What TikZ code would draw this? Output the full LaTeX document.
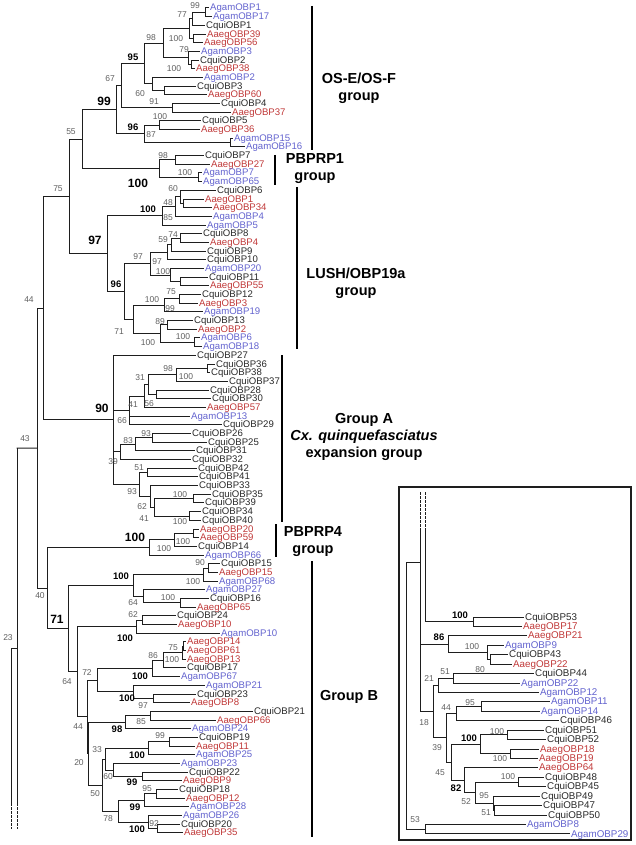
\documentclass[tikz,border=0pt]{standalone}
\usepackage{fontspec}
\setmainfont{Liberation Sans}
\definecolor{agam}{RGB}{98,98,206}
\definecolor{aaeg}{RGB}{192,56,56}
\definecolor{cqui}{RGB}{40,40,40}
\definecolor{bsgray}{RGB}{95,95,95}
\definecolor{linec}{RGB}{30,30,30}
\begin{document}
\begin{tikzpicture}[x=1pt,y=-1pt,
  br/.style={draw=linec,line width=1pt,line cap=rect},
  brdash/.style={draw=linec,line width=1pt,dash pattern=on 2.5pt off 1.5pt},
  leaf/.style={anchor=west,inner xsep=1.5pt,inner ysep=0pt,text height=7pt,text depth=1pt,font=\fontsize{9.6}{10}\selectfont},
  ileaf/.style={anchor=west,inner xsep=1.5pt,inner ysep=0pt,text height=7.2pt,text depth=1pt,font=\fontsize{9.8}{11}\selectfont},
  bs/.style={inner sep=0pt,text=bsgray,font=\fontsize{8.5}{9}\selectfont},
  bsb/.style={inner sep=0pt,text=black,font=\bfseries\fontsize{9.5}{10}\selectfont},
  bsl/.style={inner sep=0pt,text=black,font=\bfseries\fontsize{12}{13}\selectfont},
  grp/.style={inner sep=0pt,align=center,text=black,font=\bfseries\fontsize{14.5}{17}\selectfont},
  grpline/.style={draw=black,line width=1.3pt},
  boxst/.style={draw=linec,line width=1.1pt}]
\useasboundingbox (0,0) rectangle (635,845);
% ---------------- main tree ----------------
\begin{scope}[x=1pt,y=-8.684pt,yshift=0.684pt]
\foreach \i/\x/\s/\t in {
1/208.5/agam/AgamOBP1,2/211.5/agam/AgamOBP17,3/204.5/cqui/CquiOBP1,4/205.5/aaeg/AaegOBP39,
5/202.5/aaeg/AaegOBP56,6/199.5/agam/AgamOBP3,7/198.5/cqui/CquiOBP2,8/194.5/aaeg/AaegOBP38,
9/202.5/agam/AgamOBP2,10/195.5/cqui/CquiOBP3,11/206.5/aaeg/AaegOBP60,12/219.5/cqui/CquiOBP4,
13/230.5/aaeg/AaegOBP37,14/200.5/cqui/CquiOBP5,15/199.5/aaeg/AaegOBP36,16/232.5/agam/AgamOBP15,
17/244.5/agam/AgamOBP16,18/203.5/cqui/CquiOBP7,19/209.5/aaeg/AaegOBP27,20/201.5/agam/AgamOBP7,
21/201.5/agam/AgamOBP65,22/215.5/cqui/CquiOBP6,23/203.5/aaeg/AaegOBP1,24/211.5/aaeg/AaegOBP34,
25/211.5/agam/AgamOBP4,26/205.5/agam/AgamOBP5,27/201.5/cqui/CquiOBP8,28/208.5/aaeg/AaegOBP4,
29/205.5/cqui/CquiOBP9,30/205.5/cqui/CquiOBP10,31/203.5/agam/AgamOBP20,32/207.5/cqui/CquiOBP11,
33/208.5/aaeg/AaegOBP55,34/200.5/cqui/CquiOBP12,35/197.5/aaeg/AaegOBP3,36/202.5/agam/AgamOBP19,
37/192.5/cqui/CquiOBP13,38/196.5/aaeg/AaegOBP2,39/199.5/agam/AgamOBP6,40/201.5/agam/AgamOBP18,
41/195.5/cqui/CquiOBP27,42/214.5/cqui/CquiOBP36,43/209.5/cqui/CquiOBP38,44/227.5/cqui/CquiOBP37,
45/208.5/cqui/CquiOBP28,46/210.5/cqui/CquiOBP30,47/205.5/aaeg/AaegOBP57,48/189.5/agam/AgamOBP13,
49/221.5/cqui/CquiOBP29,50/190.5/cqui/CquiOBP26,51/206.5/cqui/CquiOBP25,52/194.5/cqui/CquiOBP31,
53/190.5/cqui/CquiOBP32,54/196.5/cqui/CquiOBP42,55/197.5/cqui/CquiOBP41,56/197.5/cqui/CquiOBP33,
57/210.5/cqui/CquiOBP35,58/203.5/cqui/CquiOBP39,59/200.5/cqui/CquiOBP34,60/200.5/cqui/CquiOBP40,
61/198.5/aaeg/AaegOBP20,62/198.5/aaeg/AaegOBP59,63/196.5/cqui/CquiOBP14,64/203.5/agam/AgamOBP66,
65/219.5/cqui/CquiOBP15,66/217.5/aaeg/AaegOBP15,67/217.5/agam/AgamOBP68,68/204.5/agam/AgamOBP27,
69/208.5/cqui/CquiOBP16,70/195.5/aaeg/AaegOBP65,71/175.5/cqui/CquiOBP24,72/176.5/aaeg/AaegOBP10,
73/219.5/agam/AgamOBP10,74/185.5/aaeg/AaegOBP14,75/185.5/aaeg/AaegOBP61,76/185.5/aaeg/AaegOBP13,
77/185.5/cqui/CquiOBP17,78/179.5/agam/AgamOBP67,79/204.5/agam/AgamOBP21,80/195.5/cqui/CquiOBP23,
81/189.5/aaeg/AaegOBP8,82/252.5/cqui/CquiOBP21,83/215.5/aaeg/AaegOBP66,84/190.5/agam/AgamOBP24,
85/197.5/cqui/CquiOBP19,86/194.5/aaeg/AaegOBP11,87/194.5/agam/AgamOBP25,88/179.5/agam/AgamOBP23,
89/187.5/cqui/CquiOBP22,90/181.5/aaeg/AaegOBP9,91/177.5/cqui/CquiOBP18,92/184.5/aaeg/AaegOBP12,
93/188.5/agam/AgamOBP28,94/181.5/agam/AgamOBP26,95/179.5/cqui/CquiOBP20,96/182.5/aaeg/AaegOBP35}
  \node[leaf,text=\s] (L\i) at (\x,\i) {\t};
\foreach \n/\x/\y in {
a1/205/1.5,a77/192/2.25,a39/193/4.5,aJ/189/3.375,a7/191/7.5,a79/188/6.75,a98/163/5.0625,
a91/164/10.5,a60/152/9.75,a95/144/7.406,a37/172/12.5,a67/121/9.953,a87/159/14.5,a15/230/16.5,
a96/144/15.5,a99/116/12.727,b98/175/18.5,b7/198/20.5,b100/159/19.5,c55/82/16.113,
d48/183/23.5,d60/180/22.75,d85/175/23.875,d100/162/24.9375,e74/180/27.5,e59/171/28.25,
e97a/167/29.125,e75/180/32.5,e100/170/31.75,e97/150/30.4375,f99/179/34.5,f100/164/35.25,
f89/167/37.5,f6/194/39.5,f100b/160/38.5,f71/133/36.875,e96/124/33.656,d97/107/29.297,
c75/69/22.705,g36/207/42.5,g98/176/43.25,g28/156/45.5,g31/148/44.375,g41/144/45.6875,
g66/129/47.344,g93/152/50.5,g83/135/51.25,g39/120/52.125,g51/147/54.5,g35/193/57.5,
g34/189/59.5,g41b/154/58.5,g62/150/57.25,g93b/139/55.875,g90/113/48.4375,c44/43/35.571,
h20/193/61.5,h100/174/62.25,h100b/149/63.125,i90/208/65.5,i100/203/66.25,i16/180/69.5,
i64/143/68.75,i100a/133/67.5,j62/142/71.5,j100/136/72.25,k75/183/74.5,k100x/182/75.25,
k100y/163/76.125,k86/152/77.0625,k97/153/80.5,k100z/133/79.75,k72/97/78.406,l85/150/82.5,
l98/125/83.25,m99/169/85.5,m100/148/86.25,m99b/142/89.5,m60/113/88.75,m33/105/87.5,
n95/156/91.5,n99/144/92.25,n20c/157/95.5,n92/148/94.75,n78/118/93.5,m50/102/90.5,
l20/88/86.875,k44/87/82.64,j64/77/77.445,i71/68/72.47,h40/47/67.8,c43/37/51.69}
  \coordinate (\n) at (\x,\y);
\end{scope}
% ---------------- inset tree ----------------
\begin{scope}[x=1pt,y=-9.43pt,yshift=-607.57pt]
\foreach \i/\x/\s/\t in {
1/523.5/cqui/CquiOBP53,2/521.5/aaeg/AaegOBP17,3/526.5/aaeg/AaegOBP21,4/503.5/agam/AgamOBP9,
5/507.5/cqui/CquiOBP43,6/511.5/aaeg/AaegOBP22,7/533.5/cqui/CquiOBP44,8/519.5/agam/AgamOBP22,
9/538.5/agam/AgamOBP12,10/549.5/agam/AgamOBP11,11/539.5/agam/AgamOBP14,12/558.5/cqui/CquiOBP46,
13/543.5/cqui/CquiOBP51,14/545.5/cqui/CquiOBP52,15/538.5/aaeg/AaegOBP18,16/537.5/aaeg/AaegOBP19,
17/537.5/aaeg/AaegOBP64,18/543.5/cqui/CquiOBP48,19/545.5/cqui/CquiOBP45,20/539.5/cqui/CquiOBP49,
21/541.5/cqui/CquiOBP47,22/546.5/cqui/CquiOBP50,23/525.5/agam/AgamOBP8,24/569.5/agam/AgamOBP29}
  \node[ileaf,text=\s] (J\i) at (\x,\i) {\t};
\foreach \n/\x/\y in {
p100/473/1.5,p80/490/5.5,p100b/487/4.75,p86/448/3.875,q51/453/7.5,q21/438/8.25,
q95/481/10.5,q44/456/11.25,r100a/507/13.5,r100b/510/15.5,r100/480/14.5,s100/518/18.5,
s51/494/21.5,s95/493/20.75,s52/475/19.625,s82/464/18.3125,r45/451/16.406,q39/446/13.828,
q18/433/11.039,t29/425/23.5}
  \coordinate (\n) at (\x,\y);
\end{scope}
% ---------------- branches ----------------
\foreach \p/\c in {
a1/L1.west,a1/L2.west,a77/a1,a77/L3.west,a39/L4.west,a39/L5.west,aJ/a77,aJ/a39,
a7/L7.west,a7/L8.west,a79/L6.west,a79/a7,a98/aJ,a98/a79,a91/L10.west,a91/L11.west,
a60/L9.west,a60/a91,a95/a98,a95/a60,a37/L12.west,a37/L13.west,a67/a95,a67/a37,
a87/L14.west,a87/L15.west,a15/L16.west,a15/L17.west,a96/a87,a96/a15,a99/a67,a99/a96,
b98/L18.west,b98/L19.west,b7/L20.west,b7/L21.west,b100/b98,b100/b7,c55/a99,c55/b100,
d48/L23.west,d48/L24.west,d60/L22.west,d60/d48,d85/d60,d85/L25.west,d100/d85,d100/L26.west,
e74/L27.west,e74/L28.west,e59/e74,e59/L29.west,e97a/e59,e97a/L30.west,e75/L32.west,e75/L33.west,
e100/L31.west,e100/e75,e97/e97a,e97/e100,f99/L34.west,f99/L35.west,f100/f99,f100/L36.west,
f89/L37.west,f89/L38.west,f6/L39.west,f6/L40.west,f100b/f89,f100b/f6,f71/f100,f71/f100b,
e96/e97,e96/f71,d97/d100,d97/e96,c75/c55,c75/d97,
g36/L42.west,g36/L43.west,g98/g36,g98/L44.west,g28/L45.west,g28/L46.west,g31/g98,g31/g28,
g41/g31,g41/L47.west,g66/g41,g66/L48.west,g66/L49.west,g93/L50.west,g93/L51.west,g83/g93,
g83/L52.west,g39/g83,g39/L53.west,g51/L54.west,g51/L55.west,g35/L57.west,g35/L58.west,
g34/L59.west,g34/L60.west,g41b/g35,g41b/g34,g62/L56.west,g62/g41b,g93b/g51,g93b/g62,
g90/L41.west,g90/g66,g90/g39,g90/g93b,c44/c75,c44/g90,
h20/L61.west,h20/L62.west,h100/h20,h100/L63.west,h100b/h100,h100b/L64.west,
i90/L65.west,i90/L66.west,i100/i90,i100/L67.west,i16/L69.west,i16/L70.west,i64/L68.west,i64/i16,
i100a/i100,i100a/i64,j62/L71.west,j62/L72.west,j100/j62,j100/L73.west,
k75/L74.west,k75/L75.west,k100x/k75,k100x/L76.west,k100y/k100x,k100y/L77.west,k86/k100y,k86/L78.west,
k97/L80.west,k97/L81.west,k100z/L79.west,k100z/k97,k72/k86,k72/k100z,
l85/L82.west,l85/L83.west,l98/l85,l98/L84.west,m99/L85.west,m99/L86.west,m100/m99,m100/L87.west,
m99b/L89.west,m99b/L90.west,m60/L88.west,m60/m99b,m33/m100,m33/m60,
n95/L91.west,n95/L92.west,n99/n95,n99/L93.west,n20c/L95.west,n20c/L96.west,n92/L94.west,n92/n20c,
n78/n99,n78/n92,m50/m33,m50/n78,l20/l98,l20/m50,k44/k72,k44/l20,j64/j100,j64/k44,
i71/i100a,i71/j64,h40/h100b,h40/i71,c43/c44,c43/h40,
p100/J1.west,p100/J2.west,p80/J5.west,p80/J6.west,p100b/J4.west,p100b/p80,p86/J3.west,p86/p100b,
q51/J7.west,q51/J8.west,q21/q51,q21/J9.west,q95/J10.west,q95/J11.west,q44/q95,q44/J12.west,
r100a/J13.west,r100a/J14.west,r100b/J15.west,r100b/J16.west,r100/r100a,r100/r100b,
s100/J18.west,s100/J19.west,s51/J21.west,s51/J22.west,s95/J20.west,s95/s51,s52/s100,s52/s95,
s82/J17.west,s82/s52,r45/r100,r45/s82,q39/q44,q39/r45,q18/q21,q18/q39,t29/J23.west,t29/J24.west}
  \draw[br] (\p) |- (\c);
% continuation lines of the main tree
\coordinate (r17) at (17,448.2);
\coordinate (r17d) at (17,803);
\coordinate (r17e) at (17,829);
\coordinate (r12) at (11,648);
\coordinate (r12j) at (17,648);
\coordinate (r12d) at (11,803);
\coordinate (r12e) at (11,829);
\draw[br] (r17) -- (c43);
\draw[br] (r17) -- (r17d);
\draw[brdash] (r17d) -- (r17e);
\draw[br] (r12) -- (r12j);
\draw[br] (r12) -- (r12d);
\draw[brdash] (r12d) -- (r12e);
% inset frame and its root lines
\draw[boxst] (399,487) rectangle (631,840);
\coordinate (u420t) at (420,492);
\coordinate (u420d) at (420,528);
\coordinate (u425t) at (425,492);
\coordinate (u425d) at (425,528);
\coordinate (k420) at (420,562);
\coordinate (ir) at (406,695.6);
\draw[brdash] (u420t) -- (u420d);
\draw[brdash] (u425t) -- (u425d);
\draw[br] (u420d) |- (p86);
\draw[br] (u420d) |- (q18);
\draw[br] (u425d) |- (p100);
\draw[br] (ir) |- (k420);
\draw[br] (ir) |- (t29);
% ---------------- bootstrap values ----------------
\foreach \x/\y/\t [count=\n] in {
195/6/99,182/15/77,176/39/100,151/38/98,184/50/79,174/69/100,110/79/67,140/94/60,154/102/91,
160/117/100,151/135/87,71/132/55,163/156/98,185/173/100,58/189/75,173/189/60,168/203/48,
168/218/85,173/235/74,163/240/59,138/257/97,157/262/97,163/272/100,171/292/75,29/300/44,
152/300/100,170/309/99,160/322/89,119/332/71,183/337/100,148/343/100,168/369/98,186/377/100,
140/378/31,133/405/41,149/404/56,122/421/66,25/439/43,146/434/93,128/441/83,113/462/39,
139/468/51,132/492/93,180/495/100,142/507/62,144/519/41,180/522/100,183/542/100,164/549/100,
200/563/90,193/582/100,40/596/40,168/598/100,133/603/64,133/615/62,8/638/23,173/648/75,
153/656/86,172/660/100,87/673/72,67/682/64,143/706/97,141/722/85,78/727/44,160/736/99,
97/750/33,79/763/20,108/777/60,147/789/95,95/794/50,108/819/78,154/824/92,
472/647/100,480/670/80,445/672/51,429/679/21,470/703/95,446/708/44,424/723/18,497/732/100,
437/748/39,500/759/100,440/773/45,508/777/100,484/796/95,466/802/52,486/813/51,415/820/53}
  \node[bs] (bs\n) at (\x,\y) {\t};
\foreach \x/\y/\t [count=\n] in {
133/57/95,133/127/96,148/209/100,116/284/96,121/576/100,125/638/100,140/676/100,127/698/100,
117/729/98,137/755/100,132/782/99,135/807/99,137/829/100,
460/615/100,439/637/86,469/738/100,456/788/82}
  \node[bsb] (bb\n) at (\x,\y) {\t};
\foreach \x/\y/\t [count=\n] in {
104/101/99,138/183/100,95/240/97,102/408/90,135/537/100,57/619/71}
  \node[bsl] (bl\n) at (\x,\y) {\t};
% ---------------- group brackets and labels ----------------
\coordinate (gOSa) at (312,6);   \coordinate (gOSb) at (312,150);
\coordinate (gP1a) at (275,155); \coordinate (gP1b) at (275,185);
\coordinate (gLUa) at (297,187); \coordinate (gLUb) at (297,349);
\coordinate (gGAa) at (282,355); \coordinate (gGAb) at (282,522);
\coordinate (gP4a) at (276,524); \coordinate (gP4b) at (276,557);
\coordinate (gGBa) at (312,561); \coordinate (gGBb) at (312,837);
\draw[grpline] (gOSa) -- (gOSb);
\draw[grpline] (gP1a) -- (gP1b);
\draw[grpline] (gLUa) -- (gLUb);
\draw[grpline] (gGAa) -- (gGAb);
\draw[grpline] (gP4a) -- (gP4b);
\draw[grpline] (gGBa) -- (gGBb);
\node[grp] (tOS) at (359,88) {OS-E/OS-F\\group};
\node[grp] (tP1) at (315,168.5) {PBPRP1\\group};
\node[grp] (tLU) at (356,283) {LUSH/OBP19a\\group};
\node[grp] (tGA) at (364,437) {Group A\\{\itshape Cx. quinquefasciatus}\\expansion group};
\node[grp] (tP4) at (313,541.5) {PBPRP4\\group};
\node[grp] (tGB) at (349,697) {Group B};
\end{tikzpicture}
\end{document}
